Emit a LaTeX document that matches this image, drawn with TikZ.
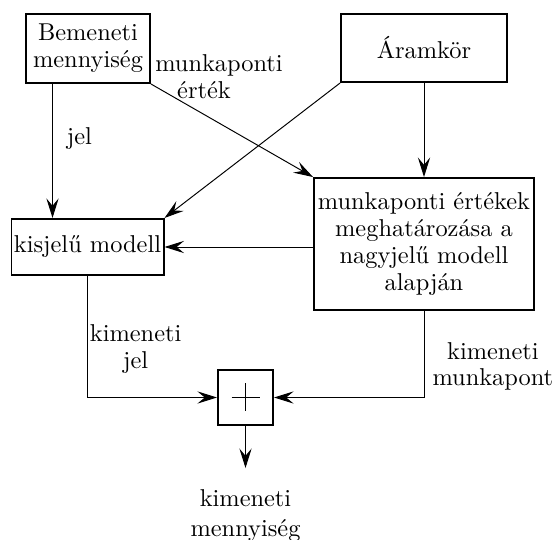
\documentclass[tikz,border=0pt]{standalone}
\usepackage{tikz}
\usetikzlibrary{arrows.meta}

\begin{document}
\begin{tikzpicture}[x=0.41pt, y=-0.41pt,
                    font={\fontsize{10}{11}\selectfont},
                    blokk/.style={draw, line width=0.8pt, align=center, inner sep=1pt},
                    jelut/.style={-{Stealth[length=8pt,width=5pt,inset=3pt]}, line width=0.4pt},
                    felirat/.style={align=center, inner sep=0pt}]
  \useasboundingbox (0,0) rectangle (554,540);

  % blokkok
  \node[blokk, minimum width=50.8pt, minimum height=28.3pt] (bem) at (88,48.5) {Bemeneti\\mennyiség};
  \node[blokk, minimum width=68pt, minimum height=27.9pt] (aram) at (424,48) {Áramkör};
  \node[blokk, minimum width=61.9pt, minimum height=23pt] (kis) at (87.5,247) {kisjelű modell};
  \node[blokk, minimum width=90.2pt, minimum height=54.1pt] (mp) at (424,244)
    {munkaponti értékek\\meghatározása a\\nagyjelű modell\\alapján};
  \node[blokk, minimum size=22.6pt] (sum) at (245.5,397.5) {};
  \draw[line width=0.4pt] (sum.center) +(-14,0) -- +(14,0)
                          (sum.center) +(0,-14) -- +(0,14);

  \node[felirat, align=left] (mpe) at (219,77) {munkaponti\\\hspace*{9pt}érték};
  \node[felirat, anchor=north] (ki) at (245.5,489) {kimeneti\\[1.5pt]mennyiség};

  % jelutak
  \draw[jelut] (bem.225) -- (bem.225 |- kis.north)
    node[felirat, pos=0.41, right=5.7pt] {jel};
  \draw[jelut] (bem.south east) -- (mp.north west);
  \draw[jelut] (aram.south west) -- (kis.north east);
  \draw[jelut] (aram.south) -- (mp.north);
  \draw[jelut] (kis.east -| mp.west) -- (kis.east);
  \draw[jelut] (kis.south) |- (sum.west)
    node[felirat, pos=0.3, right=0.8pt] {kimeneti\\jel};
  \draw[jelut] (mp.south) |- (sum.east)
    node[felirat, pos=0.32, right=3.3pt] {kimeneti\\munkapont};
  \draw[jelut, shorten >=8.6pt] (sum) -- (ki);
\end{tikzpicture}
\end{document}
